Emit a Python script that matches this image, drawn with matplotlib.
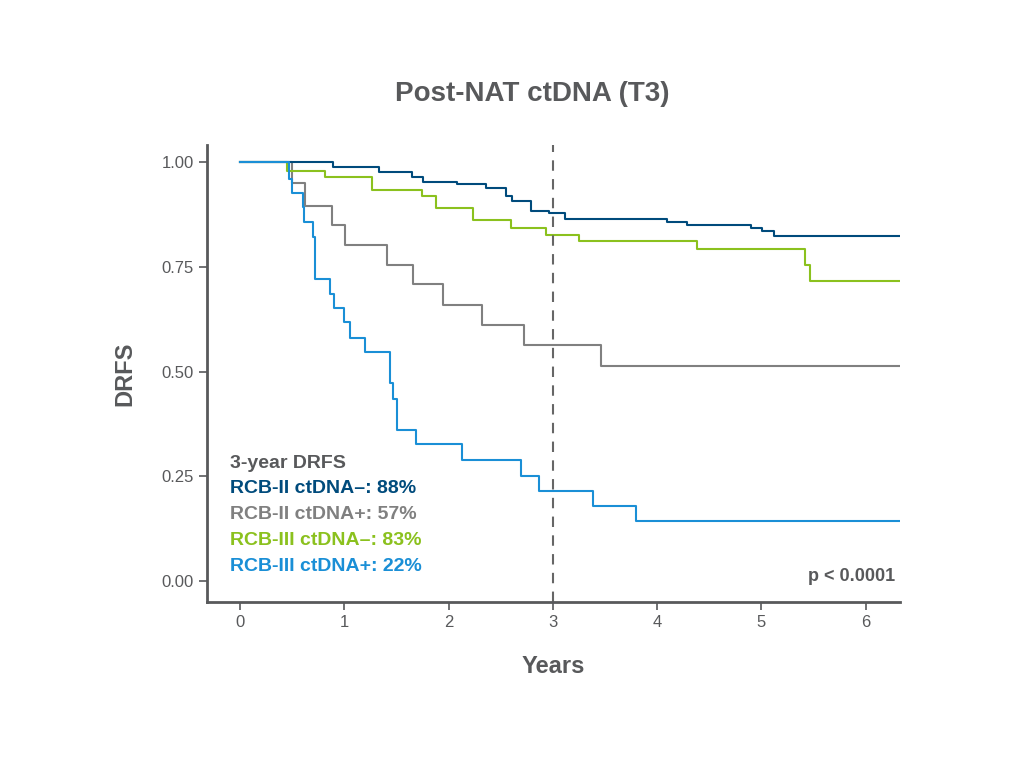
import matplotlib
matplotlib.use("Agg")
import matplotlib.pyplot as plt

# step curves (time in years, survival)
rcb2_neg_t = [0, 0.89, 1.33, 1.65, 1.75, 2.08, 2.36, 2.55, 2.61, 2.79, 2.96, 3.12, 4.09, 4.29, 4.9, 5.01, 5.12, 6.33]
rcb2_neg_s = [1.0, 0.987, 0.975, 0.963, 0.953, 0.948, 0.937, 0.919, 0.906, 0.884, 0.877, 0.863, 0.857, 0.85, 0.843, 0.835, 0.823, 0.823]
rcb2_pos_t = [0, 0.5, 0.62, 0.885, 1.01, 1.41, 1.66, 1.95, 2.32, 2.72, 3.46, 6.33]
rcb2_pos_s = [1.0, 0.949, 0.895, 0.85, 0.802, 0.755, 0.709, 0.659, 0.611, 0.563, 0.513, 0.513]
rcb3_neg_t = [0, 0.45, 0.815, 1.26, 1.745, 1.88, 2.23, 2.6, 2.93, 3.25, 4.38, 5.42, 5.47, 6.33]
rcb3_neg_s = [1.0, 0.979, 0.964, 0.933, 0.918, 0.891, 0.861, 0.842, 0.826, 0.811, 0.793, 0.753, 0.716, 0.716]
rcb3_pos_t = [0, 0.47, 0.5, 0.6, 0.615, 0.695, 0.716, 0.86, 0.895, 1.0, 1.05, 1.2, 1.436,
              1.468, 1.506, 1.69, 2.127, 2.69, 2.87, 3.38, 3.8, 6.33]
rcb3_pos_s = [1.0, 0.959, 0.925, 0.893, 0.857, 0.822, 0.72, 0.684, 0.651, 0.617, 0.58, 0.546, 0.473,
              0.435, 0.361, 0.327, 0.29, 0.25, 0.216, 0.179, 0.143, 0.143]

labels = ["RCB-II ctDNA\u2013: 88%", "RCB-II ctDNA+: 57%", "RCB-III ctDNA\u2013: 83%", "RCB-III ctDNA+: 22%"]
colors = ["#004b7c", "#808080", "#8bc11e", "#1a8fd6"]
text_gray = "#58595b"

plt.rcParams['font.family'] = ['Liberation Sans', 'DejaVu Sans']

fig = plt.figure(figsize=(10.24, 7.68), dpi=100)
ax = fig.add_axes([0.202, 0.216, 0.677, 0.595])

curves = [(rcb2_neg_t, rcb2_neg_s), (rcb2_pos_t, rcb2_pos_s), (rcb3_neg_t, rcb3_neg_s), (rcb3_pos_t, rcb3_pos_s)]
# draw gray and green below blues like the reference
for idx in [1, 2, 0, 3]:
  t, s = curves[idx]
  ax.step(t, s, where="post", color=colors[idx], lw=1.5)

ax.axvline(3, color="#666666", lw=1.5, ls=(0, (5, 4)))

ax.set_xlim(-0.32, 6.33)
ax.set_ylim(-0.05, 1.04)
ax.set_xticks(range(7))
ax.set_yticks([0, 0.25, 0.5, 0.75, 1.0])
ax.set_yticklabels(["0.00", "0.25", "0.50", "0.75", "1.00"])
for side in ["top", "right"]:
  ax.spines[side].set_visible(False)
for side in ["left", "bottom"]:
  ax.spines[side].set_linewidth(2)
  ax.spines[side].set_color(text_gray)
ax.tick_params(colors=text_gray, labelsize=12, length=6, width=1.2)

ax.set_xlabel("Years", fontsize=17, fontweight="bold", color=text_gray, labelpad=18)
ax.set_ylabel("DRFS", fontsize=17, fontweight="bold", color=text_gray, labelpad=18)
fig.suptitle("Post-NAT ctDNA (T3)", x=0.52, y=0.895, fontsize=20, fontweight="bold", color=text_gray)

ax.text(-0.1, 0.28, "3-year DRFS", fontsize=14, fontweight="bold", color=text_gray, va="center")
for i, (lab, col) in enumerate(zip(labels, colors)):
  ax.text(-0.1, 0.22 - i * 0.0615, lab, fontsize=14, fontweight="bold", color=col, va="center")
ax.text(6.28, 0.01, "p < 0.0001", fontsize=13, fontweight="bold", color=text_gray, ha="right", va="center")

fig.savefig("out.png", dpi=100)
